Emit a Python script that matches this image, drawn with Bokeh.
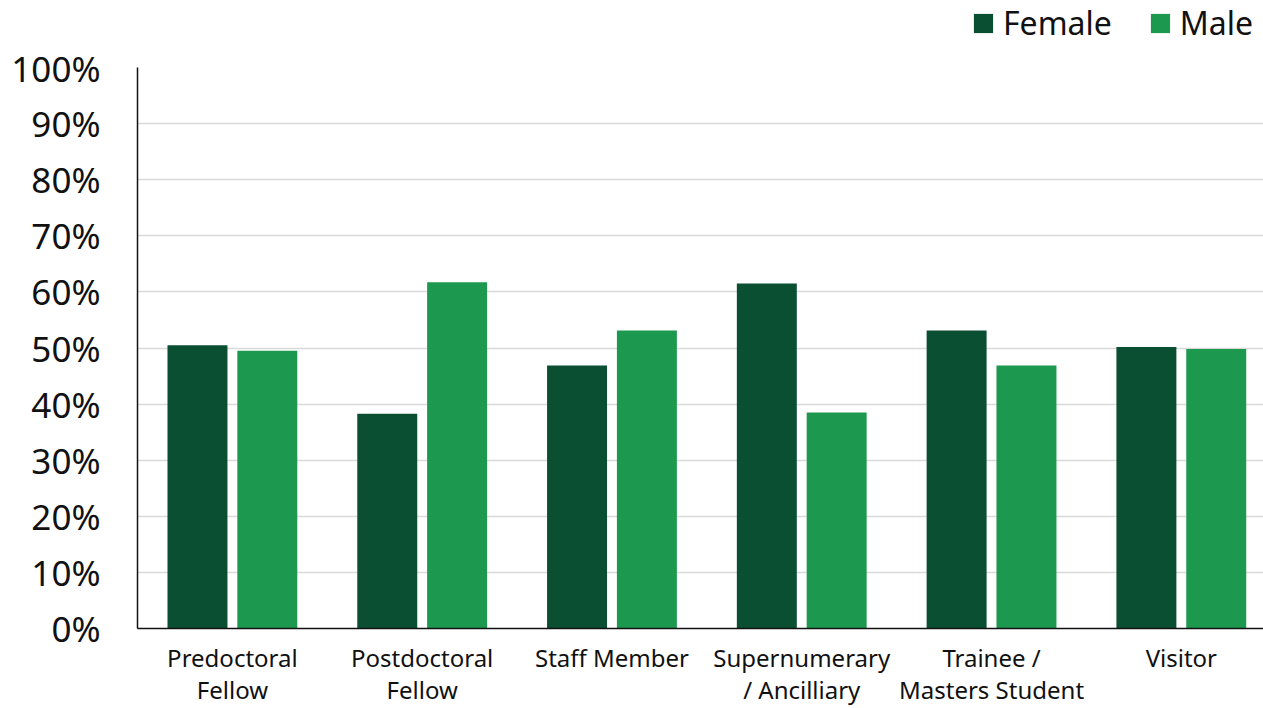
from bokeh.plotting import figure
from bokeh.layouts import column
from bokeh.models import Range1d, FixedTicker, Legend, LegendItem, NumeralTickFormatter
from bokeh.embed import file_html
from bokeh.resources import INLINE

categories = ["Predoctoral\nFellow", "Postdoctoral\nFellow", "Staff Member",
              "Supernumerary\n/ Ancilliary", "Trainee /\nMasters Student", "Visitor"]
female = [0.505, 0.383, 0.469, 0.615, 0.531, 0.502]
male = [0.495, 0.617, 0.531, 0.385, 0.469, 0.498]
y_ticks = [0.0, 0.1, 0.2, 0.3, 0.4, 0.5, 0.6, 0.7, 0.8, 0.9, 1.0]

FEMALE_COLOR = "#0B4F33"
MALE_COLOR = "#1C994E"
FONT = "Noto Sans"

xs = list(range(len(categories)))
offset = 0.184
bar_w = 0.316

# --- legend strip across the top (its frame lines up with the chart's frame) ---
lf = figure(width=1263, height=44, output_backend="svg", toolbar_location=None,
            x_range=Range1d(0, 1), y_range=Range1d(0, 1),
            x_axis_location=None, y_axis_location=None,
            min_border_left=137, min_border_right=0, min_border_top=0, min_border_bottom=0)
lf.grid.visible = False
lf.outline_line_color = None
# zero-size swatch renderers: only their legend entries show
lf_f = lf.vbar(x=[0.5], top=[0], bottom=[0], width=0, fill_color=FEMALE_COLOR, line_color=None)
lf_m = lf.vbar(x=[0.5], top=[0], bottom=[0], width=0, fill_color=MALE_COLOR, line_color=None)

legend = Legend(items=[LegendItem(label="Female", renderers=[lf_f]),
                       LegendItem(label="Male", renderers=[lf_m])],
                orientation="horizontal", location=(834, 0))
legend.label_text_font = FONT
legend.label_text_font_size = "32px"
legend.label_text_color = "#111111"
legend.glyph_width = 24
legend.glyph_height = 24
legend.spacing = 36
legend.label_standoff = 8
legend.padding = 2
legend.margin = 0
legend.border_line_color = None
legend.background_fill_alpha = 0
lf.add_layout(legend, "center")

# --- main bar chart ---
p = figure(width=1263, height=664, output_backend="svg", toolbar_location=None,
           x_range=Range1d(-0.5, 5.433), y_range=Range1d(0, 1),
           min_border_left=137, min_border_right=0, min_border_top=23, min_border_bottom=77)
p.outline_line_color = None
p.background_fill_color = "white"
p.border_fill_color = "white"

p.vbar(x=[x - offset for x in xs], top=female, width=bar_w,
       fill_color=FEMALE_COLOR, line_color=None)
p.vbar(x=[x + offset for x in xs], top=male, width=bar_w,
       fill_color=MALE_COLOR, line_color=None)

# x axis: category names under each pair of bars
p.xaxis.ticker = FixedTicker(ticks=xs)
p.xaxis.major_label_overrides = {i: c for i, c in enumerate(categories)}
p.xaxis.major_label_text_font = FONT
p.xaxis.major_label_text_font_size = "24px"
p.xaxis.major_label_text_color = "#111111"
p.xaxis.major_label_text_line_height = 0.98
p.xaxis.major_label_standoff = 12
p.xaxis.major_tick_out = 0
p.xaxis.major_tick_in = 0
p.xaxis.major_tick_line_color = None
p.xaxis.minor_tick_line_color = None
p.xaxis.axis_line_color = "#111111"
p.xaxis.axis_line_width = 1.5

# y axis: percentages
p.yaxis.ticker = FixedTicker(ticks=y_ticks)
p.yaxis.formatter = NumeralTickFormatter(format="0%")
p.yaxis.major_label_text_font = FONT
p.yaxis.major_label_text_font_size = "35px"
p.yaxis.major_label_text_color = "#111111"
p.yaxis.major_label_standoff = 37
p.yaxis.major_tick_out = 0
p.yaxis.major_tick_in = 0
p.yaxis.major_tick_line_color = None
p.yaxis.minor_tick_line_color = None
p.yaxis.axis_line_color = "#111111"
p.yaxis.axis_line_width = 1.5

p.xgrid.grid_line_color = None
p.ygrid.ticker = FixedTicker(ticks=y_ticks)
p.ygrid.grid_line_color = "#D9D9D9"
p.ygrid.grid_line_width = 1.5

layout = column(lf, p, spacing=0)
open("out.html", "w").write(file_html(layout, INLINE))
